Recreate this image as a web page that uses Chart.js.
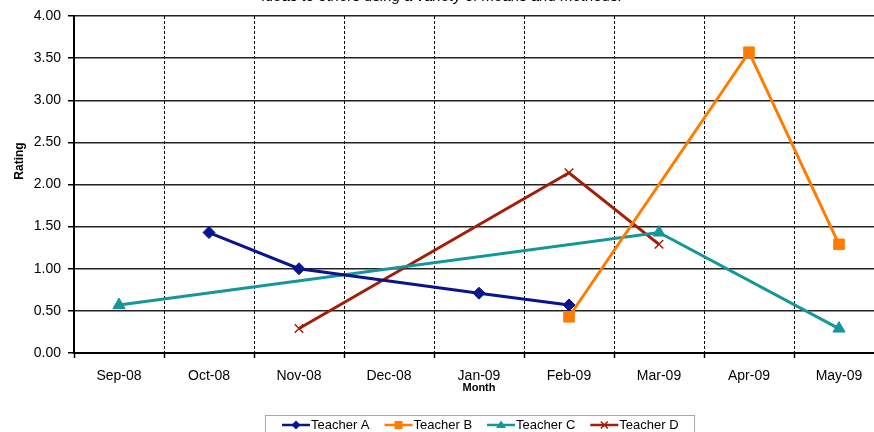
<!DOCTYPE html>
<html>
<head>
<meta charset="utf-8">
<script src="https://cdn.jsdelivr.net/npm/chart.js"></script>
<style>
  html, body { margin: 0; padding: 0; background: #fff; overflow: hidden; }
  #frame { position: relative; width: 874px; height: 432px; overflow: hidden; }
  #chart { position: absolute; left: 0; top: -12px; }
</style>
</head>
<body>
<div id="frame"><canvas id="chart" width="900" height="444"></canvas></div>
<script>
// chart data
var months = ["Sep-08", "Oct-08", "Nov-08", "Dec-08", "Jan-09", "Feb-09", "Mar-09", "Apr-09", "May-09"];
var teacherA = [null, 1.43, 1.00, null, 0.71, 0.57, null, null, null];
var teacherB = [null, null, null, null, null, 0.43, null, 3.57, 1.29];
var teacherC = [0.57, null, null, null, null, null, 1.43, null, 0.29];
var teacherD = [null, null, 0.29, null, null, 2.14, 1.29, null, null];
var seriesNames = ["Teacher A", "Teacher B", "Teacher C", "Teacher D"];
var yTicks = [0, 0.5, 1, 1.5, 2, 2.5, 3, 3.5, 4];

var FONT = "'Liberation Sans', Arial, sans-serif";
var colors = ["#0a148c", "#ff7c00", "#14969a", "#a01e0a"];
var styles = ["rectRot", "rect", "triangle", "crossRot"];
var radii = [6, 7.5, 7, 6];

function makeSet(i, data) {
  var isCross = styles[i] === "crossRot";
  return {
    label: seriesNames[i],
    data: data,
    borderColor: colors[i],
    backgroundColor: colors[i],
    borderWidth: 3,
    pointStyle: styles[i],
    pointRadius: radii[i],
    pointHoverRadius: radii[i],
    pointBorderWidth: isCross ? 1.5 : 1,
    pointBackgroundColor: colors[i],
    pointBorderColor: colors[i],
    spanGaps: true,
    tension: 0
  };
}

// small marker drawn in the legend
function legendMarker(ctx, style, x, y, color) {
  ctx.save();
  ctx.fillStyle = color;
  ctx.strokeStyle = color;
  ctx.beginPath();
  if (style === "rectRot") {
    ctx.moveTo(x, y - 4.5); ctx.lineTo(x + 4.5, y); ctx.lineTo(x, y + 4.5); ctx.lineTo(x - 4.5, y);
    ctx.closePath(); ctx.fill();
  } else if (style === "rect") {
    ctx.fillRect(x - 4, y - 4, 8, 8);
  } else if (style === "triangle") {
    ctx.moveTo(x, y - 4.5); ctx.lineTo(x + 5, y + 3); ctx.lineTo(x - 5, y + 3);
    ctx.closePath(); ctx.fill();
  } else {
    ctx.lineWidth = 1.5;
    ctx.moveTo(x - 3.5, y - 3.5); ctx.lineTo(x + 3.5, y + 3.5);
    ctx.moveTo(x + 3.5, y - 3.5); ctx.lineTo(x - 3.5, y + 3.5);
    ctx.stroke();
  }
  ctx.restore();
}

var extras = {
  id: "extras",
  afterDraw: function (chart) {
    var ctx = chart.ctx;
    // y axis title
    ctx.save();
    ctx.translate(20, 173);
    ctx.rotate(-Math.PI / 2);
    ctx.font = "bold 12px " + FONT;
    ctx.fillStyle = "#000";
    ctx.textAlign = "center";
    ctx.textBaseline = "middle";
    ctx.fillText("Rating", 0, 0);
    ctx.restore();

    // legend box
    ctx.save();
    ctx.strokeStyle = "#a8a8a8";
    ctx.lineWidth = 1;
    ctx.strokeRect(265.5, 427.5, 429, 30);
    ctx.font = "13px " + FONT;
    ctx.textBaseline = "middle";
    ctx.fillStyle = "#000";
    var x = 282, y = 437;
    chart.data.datasets.forEach(function (ds, i) {
      ctx.strokeStyle = ds.borderColor;
      ctx.lineWidth = 2.5;
      ctx.beginPath();
      ctx.moveTo(x, y); ctx.lineTo(x + 28, y);
      ctx.stroke();
      legendMarker(ctx, styles[i], x + 14, y, ds.borderColor);
      ctx.fillStyle = "#000";
      ctx.fillText(ds.label, x + 29, y);
      x += 29 + ctx.measureText(ds.label).width + 15;
    });
    ctx.restore();
  }
};

new Chart(document.getElementById("chart").getContext("2d"), {
  type: "line",
  data: {
    labels: months,
    datasets: [makeSet(0, teacherA), makeSet(1, teacherB), makeSet(2, teacherC), makeSet(3, teacherD)]
  },
  options: {
    responsive: false,
    animation: false,
    layout: { padding: { top: 0, left: 0, right: 16, bottom: 0 } },
    plugins: {
      legend: { display: false },
      tooltip: { enabled: false },
      title: {
        display: true,
        text: "ideas to others using a variety of means and methods.",
        color: "#000",
        font: { family: FONT, size: 15, style: "italic", weight: "normal", lineHeight: 1.2 },
        padding: { top: 0, bottom: 10 }
      }
    },
    scales: {
      x: {
        offset: true,
        grid: {
          offset: true,
          color: "#000",
          lineWidth: 1,
          tickLength: 5,
          tickColor: "#000",
          tickWidth: 1.5
        },
        border: { display: true, color: "#000", width: 2, dash: [3, 2] },
        ticks: {
          color: "#000",
          padding: 10,
          maxRotation: 0,
          autoSkip: false,
          font: { family: FONT, size: 14 }
        },
        title: {
          display: true,
          text: "Month",
          color: "#000",
          font: { family: FONT, size: 11, weight: "bold" },
          padding: { top: 0, bottom: 37 }
        },
        afterFit: function (s) { s.height = 79; }
      },
      y: {
        min: 0,
        max: 4,
        afterBuildTicks: function (s) { s.ticks = yTicks.map(function (v) { return { value: v }; }); },
        grid: {
          color: "#222",
          lineWidth: 1.5,
          tickLength: 6,
          tickColor: "#000",
          tickWidth: 1.5
        },
        border: { display: true, color: "#000", width: 2 },
        ticks: {
          color: "#000",
          padding: 7,
          font: { family: FONT, size: 14 },
          callback: function (v) { return Number(v).toFixed(2); }
        },
        afterFit: function (s) { s.width = 74; }
      }
    }
  },
  plugins: [extras]
});
</script>
</body>
</html>
